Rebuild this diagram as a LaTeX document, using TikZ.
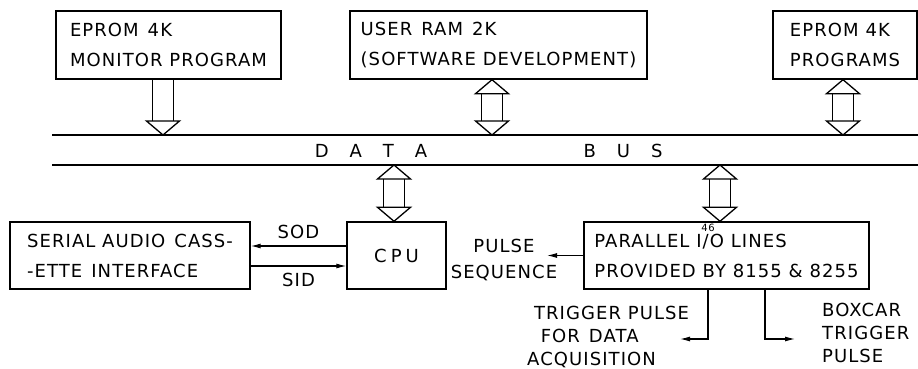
\documentclass[tikz,border=0pt]{standalone}
\usepackage{fontspec}
\setmainfont{DejaVu Sans}[LetterSpace=6]
\usetikzlibrary{
    arrows.meta,
    calc
}
\tikzstyle{unit} = [draw, line width=1.4pt, align=left, inner sep=0pt, font=\fontsize{18}{30}\selectfont]
\tikzstyle{lbl} = [inner sep=0pt, font=\fontsize{18}{24}\selectfont]
\tikzstyle{sig} = [line width=1.1pt, -{Latex[length=10pt,width=5pt]}]
\tikzstyle{bus} = [line width=1.3pt]

% hollow block arrows: #1 upper end, #2 lower end
\newcommand{\simplex}[2]{%
    \draw[bus] (#2) -- ++(-16.5,-14) -- ++(33,0) -- cycle;
    \draw[bus] ($(#1)+(-10.5,0)$) -- ($(#2)+(-10.5,-14)$)
               ($(#1)+(10.5,0)$) -- ($(#2)+(10.5,-14)$);
}
\newcommand{\duplex}[2]{%
    \draw[bus] (#1) -- ++(-16.5,14) -- ++(33,0) -- cycle;
    \draw[bus] (#2) -- ++(-16.5,-14) -- ++(33,0) -- cycle;
    \draw[bus] ($(#1)+(-10.5,14)$) -- ($(#2)+(-10.5,-14)$)
               ($(#1)+(10.5,14)$) -- ($(#2)+(10.5,-14)$);
}

\begin{document}
\begin{tikzpicture}[x=1pt, y=-1pt]
    \useasboundingbox (0,0) rectangle (918,369);

    \node[unit, minimum width=225pt, minimum height=68pt] (mon) at (168.5,45) {EPROM\enspace 4K\\MONITOR PROGRAM};
    \node[unit, minimum width=297pt, minimum height=68pt] (ram) at (498.5,45) {USER\enspace RAM\enspace 2K\\(SOFTWARE DEVELOPMENT)};
    \node[unit, minimum width=144pt, minimum height=68pt] (eprom) at (845,45) {EPROM 4K\\PROGRAMS};

    \node[unit, minimum width=240pt, minimum height=67pt] (cass) at (130,255.5) {SERIAL AUDIO\enspace CASS-\\-ETTE\enspace INTERFACE};
    \node[unit, minimum width=99pt, minimum height=67pt] (cpu) at (396.5,255.5) {C\hskip4pt P\hskip4pt U};
    \node[unit, minimum width=285pt, minimum height=67pt] (pio) at (726.5,255.5) {PARALLEL I/O LINES\\PROVIDED BY 8155 \& 8255};
    \node[inner sep=0pt, font=\fontsize{10}{10}\selectfont] (piocount) at (708,228) {46};

    % data bus
    \coordinate (busNw) at (52,135);
    \coordinate (busNe) at (918,135);
    \coordinate (busSw) at (52,165);
    \coordinate (busSe) at (918,165);
    \draw[bus] (busNw) -- (busNe) (busSw) -- (busSe);
    \node[lbl] (data) at (371,151) {D\hskip21pt A\hskip21pt T\hskip21pt A};
    \node[lbl] (bustext) at (623,151) {B\hskip21pt U\hskip21pt S};

    \foreach \u/\dx in {mon/-5.5, ram/-6.5, eprom/-2}{
        \coordinate (top-\u) at ([xshift=\dx pt]\u.south);
        \coordinate (bus-\u) at (top-\u |- busNw);
    }
    \foreach \u/\dx in {cpu/-2.5, pio/-6.5}{
        \coordinate (top-\u) at ([xshift=\dx pt]\u.north);
        \coordinate (bus-\u) at (top-\u |- busSw);
    }

    \simplex{top-mon}{bus-mon}
    \duplex{top-ram}{bus-ram}
    \duplex{top-eprom}{bus-eprom}
    \duplex{bus-cpu}{top-cpu}
    \duplex{bus-pio}{top-pio}

    % serial lines
    \draw[sig] ([yshift=9.5pt]cpu.west) -- node[lbl, above=7pt] (sod) {SOD} ([yshift=9.5pt]cass.east);
    \draw[sig] ([yshift=-10.5pt]cass.east) -- node[lbl, below=7pt] (sid) {SID} ([yshift=-10.5pt]cpu.west);

    % outputs of the I/O lines
    \coordinate (pulseend) at (547,255.5);
    \coordinate (trigend) at (680,339);
    \coordinate (boxend) at (795,339);
    \draw[sig] (pio.west) -- (pulseend);
    \draw[sig] ([xshift=-18.5pt]pio.south) |- (trigend);
    \draw[sig] ([xshift=38.5pt]pio.south) |- (boxend);

    \node[lbl, align=center, anchor=base, font=\fontsize{18}{26}\selectfont] (pulse) at (504,278) {PULSE\\SEQUENCE};
    \node[lbl, align=left, anchor=base west, font=\fontsize{18}{23}\selectfont] (trig) at (527,365) {\ TRIGGER PULSE\\\ \ FOR\enspace DATA\\ACQUISITION};
    \node[lbl, align=left, anchor=base west, font=\fontsize{18}{23}\selectfont] (boxcar) at (822,362) {BOXCAR\\TRIGGER\\PULSE};
\end{tikzpicture}
\end{document}
